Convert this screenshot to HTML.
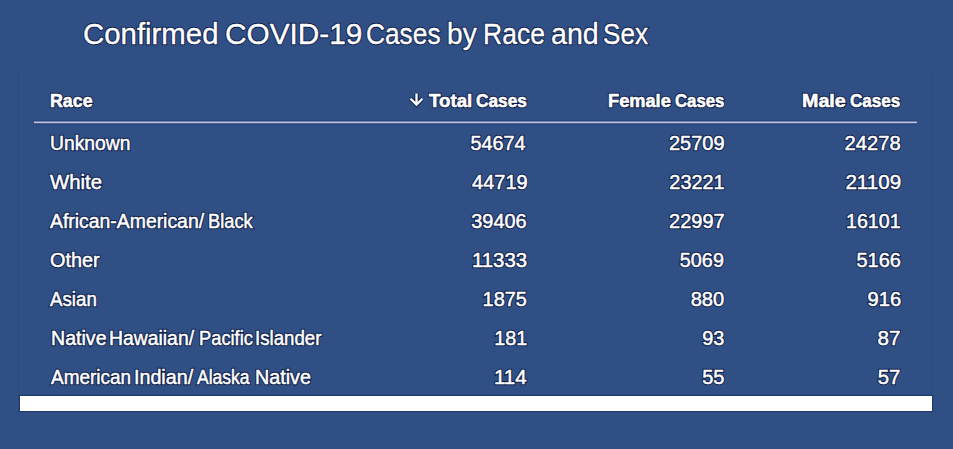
<!DOCTYPE html>
<html><head><meta charset="utf-8">
<style>
html,body{margin:0;padding:0;}
body{width:953px;height:449px;background:#2f4f85;position:relative;overflow:hidden;font-family:"Liberation Sans",sans-serif;color:#fff;}
.panel{position:absolute;left:18px;top:73px;width:912px;height:339px;border-left:1px solid #2b4a7e;border-right:1px solid #2b4a7e;}
.bar{position:absolute;left:20px;top:396px;width:912px;height:15px;background:#fff;box-shadow:0 0 0.8px 1px #1e3a6e;}
.t{position:absolute;line-height:1;white-space:nowrap;font-size:19.3px;-webkit-text-stroke:0.5px #fff;text-shadow:none;transform-origin:0 0;}
.n{transform-origin:100% 0;}
.hb{color:rgba(8,20,60,0.85);-webkit-text-stroke:2.4px rgba(8,20,60,0.85);}
.hb.h{-webkit-text-stroke:2.6px rgba(8,20,60,0.85);}
.hb.ti{-webkit-text-stroke:2.4px rgba(8,20,60,0.85);}
.ti{font-size:30.4px;-webkit-text-stroke:0.4px #fff;}
.h{font-weight:bold;font-size:19px;-webkit-text-stroke:0.6px #fff;}
svg{position:absolute;left:0;top:0;}
</style></head><body>
<div class="panel"></div>
<div class="t ti hb" style="left:83.21px;top:18.00px;transform:translateY(0px) scaleX(0.9664);">Confirmed</div>
<div id="title_0" class="t ti" style="left:83.21px;top:18.00px;transform:translateY(0px) scaleX(0.9664);">Confirmed</div>
<div class="t ti hb" style="left:224.71px;top:18.00px;transform:translateY(0px) scaleX(0.9800);">COVID-19</div>
<div id="title_1" class="t ti" style="left:224.71px;top:18.00px;transform:translateY(0px) scaleX(0.9800);">COVID-19</div>
<div class="t ti hb" style="left:366.22px;top:18.00px;transform:translateY(0px) scaleX(0.8653);">Cases</div>
<div id="title_2" class="t ti" style="left:366.22px;top:18.00px;transform:translateY(0px) scaleX(0.8653);">Cases</div>
<div class="t ti hb" style="left:447.37px;top:18.00px;transform:translateY(0px) scaleX(0.9246);">by</div>
<div id="title_3" class="t ti" style="left:447.37px;top:18.00px;transform:translateY(0px) scaleX(0.9246);">by</div>
<div class="t ti hb" style="left:483.44px;top:18.00px;transform:translateY(0px) scaleX(0.8723);">Race</div>
<div id="title_4" class="t ti" style="left:483.44px;top:18.00px;transform:translateY(0px) scaleX(0.8723);">Race</div>
<div class="t ti hb" style="left:550.72px;top:18.00px;transform:translateY(0px) scaleX(0.9415);">and</div>
<div id="title_5" class="t ti" style="left:550.72px;top:18.00px;transform:translateY(0px) scaleX(0.9415);">and</div>
<div class="t ti hb" style="left:602.59px;top:18.00px;transform:translateY(0px) scaleX(0.8580);">Sex</div>
<div id="title_6" class="t ti" style="left:602.59px;top:18.00px;transform:translateY(0px) scaleX(0.8580);">Sex</div>
<div class="t h hb" style="left:50.38px;top:91.00px;transform:translateY(-0.3px) scaleX(0.9372);">Race</div>
<div id="h0_0" class="t h" style="left:50.38px;top:91.00px;transform:translateY(-0.3px) scaleX(0.9372);">Race</div>
<div class="t h hb" style="left:428.67px;top:91.00px;transform:translateY(-0.3px) scaleX(0.9846);">Total</div>
<div id="h1_0" class="t h" style="left:428.67px;top:91.00px;transform:translateY(-0.3px) scaleX(0.9846);">Total</div>
<div class="t h hb" style="left:475.86px;top:91.00px;transform:translateY(-0.3px) scaleX(0.9100);">Cases</div>
<div id="h1_1" class="t h" style="left:475.86px;top:91.00px;transform:translateY(-0.3px) scaleX(0.9100);">Cases</div>
<div class="t h hb" style="left:607.98px;top:91.00px;transform:translateY(-0.3px) scaleX(0.9588);">Female</div>
<div id="h2_0" class="t h" style="left:607.98px;top:91.00px;transform:translateY(-0.3px) scaleX(0.9588);">Female</div>
<div class="t h hb" style="left:674.62px;top:91.00px;transform:translateY(-0.3px) scaleX(0.8825);">Cases</div>
<div id="h2_1" class="t h" style="left:674.62px;top:91.00px;transform:translateY(-0.3px) scaleX(0.8825);">Cases</div>
<div class="t h hb" style="left:802.47px;top:91.00px;transform:translateY(-0.3px) scaleX(1.0366);">Male</div>
<div id="h3_0" class="t h" style="left:802.47px;top:91.00px;transform:translateY(-0.3px) scaleX(1.0366);">Male</div>
<div class="t h hb" style="left:850.45px;top:91.00px;transform:translateY(-0.3px) scaleX(0.8989);">Cases</div>
<div id="h3_1" class="t h" style="left:850.45px;top:91.00px;transform:translateY(-0.3px) scaleX(0.8989);">Cases</div>
<div class="t hb" style="left:50.44px;top:134.00px;transform:translateY(0px) scaleX(1.0011);">Unknown</div>
<div id="r0c0_0" class="t" style="left:50.44px;top:134.00px;transform:translateY(0px) scaleX(1.0011);">Unknown</div>
<div class="t hb" style="left:50.11px;top:173.00px;transform:translateY(0px) scaleX(1.0550);">White</div>
<div id="r1c0_0" class="t" style="left:50.11px;top:173.00px;transform:translateY(0px) scaleX(1.0550);">White</div>
<div class="t hb" style="left:50.31px;top:212.00px;transform:translateY(0px) scaleX(1.0055);">African-American/</div>
<div id="r2c0_0" class="t" style="left:50.31px;top:212.00px;transform:translateY(0px) scaleX(1.0055);">African-American/</div>
<div class="t hb" style="left:208.03px;top:212.00px;transform:translateY(0px) scaleX(0.9479);">Black</div>
<div id="r2c0_1" class="t" style="left:208.03px;top:212.00px;transform:translateY(0px) scaleX(0.9479);">Black</div>
<div class="t hb" style="left:49.50px;top:251.00px;transform:translateY(0px) scaleX(1.0305);">Other</div>
<div id="r3c0_0" class="t" style="left:49.50px;top:251.00px;transform:translateY(0px) scaleX(1.0305);">Other</div>
<div class="t hb" style="left:50.21px;top:290.00px;transform:translateY(0px) scaleX(0.9710);">Asian</div>
<div id="r4c0_0" class="t" style="left:50.21px;top:290.00px;transform:translateY(0px) scaleX(0.9710);">Asian</div>
<div class="t hb" style="left:50.76px;top:329.00px;transform:translateY(0px) scaleX(1.0159);">Native</div>
<div id="r5c0_0" class="t" style="left:50.76px;top:329.00px;transform:translateY(0px) scaleX(1.0159);">Native</div>
<div class="t hb" style="left:108.88px;top:329.00px;transform:translateY(0px) scaleX(1.0045);">Hawaiian/</div>
<div id="r5c0_1" class="t" style="left:108.88px;top:329.00px;transform:translateY(0px) scaleX(1.0045);">Hawaiian/</div>
<div class="t hb" style="left:198.60px;top:329.00px;transform:translateY(0px) scaleX(0.9490);">Pacific</div>
<div id="r5c0_2" class="t" style="left:198.60px;top:329.00px;transform:translateY(0px) scaleX(0.9490);">Pacific</div>
<div class="t hb" style="left:255.41px;top:329.00px;transform:translateY(0px) scaleX(0.9681);">Islander</div>
<div id="r5c0_3" class="t" style="left:255.41px;top:329.00px;transform:translateY(0px) scaleX(0.9681);">Islander</div>
<div class="t hb" style="left:50.64px;top:368.00px;transform:translateY(0px) scaleX(0.9842);">American</div>
<div id="r6c0_0" class="t" style="left:50.64px;top:368.00px;transform:translateY(0px) scaleX(0.9842);">American</div>
<div class="t hb" style="left:134.17px;top:368.00px;transform:translateY(0px) scaleX(1.0209);">Indian/</div>
<div id="r6c0_1" class="t" style="left:134.17px;top:368.00px;transform:translateY(0px) scaleX(1.0209);">Indian/</div>
<div class="t hb" style="left:197.47px;top:368.00px;transform:translateY(0px) scaleX(0.9093);">Alaska</div>
<div id="r6c0_2" class="t" style="left:197.47px;top:368.00px;transform:translateY(0px) scaleX(0.9093);">Alaska</div>
<div class="t hb" style="left:254.76px;top:368.00px;transform:translateY(0px) scaleX(1.0223);">Native</div>
<div id="r6c0_3" class="t" style="left:254.76px;top:368.00px;transform:translateY(0px) scaleX(1.0223);">Native</div>
<svg width="953" height="449" viewBox="0 0 953 449"><path d="M416.5 93.6V104.6M410.6 98.7L416.5 104.6L422.4 98.7" fill="none" stroke="rgba(8,20,60,0.85)" stroke-width="4.1"/><path d="M416.5 93.6V104.6M410.6 98.7L416.5 104.6L422.4 98.7" fill="none" stroke="#fff" stroke-width="2.3"/></svg>
<svg width="953" height="449" viewBox="0 0 953 449"><path d="M34 122.4H917" stroke="rgba(30,50,105,0.55)" stroke-width="4"/><path d="M34 122.4H917" stroke="#bcc6e4" stroke-width="1.6"/></svg>
<div class="t n hb" style="right:427.12px;top:134.00px;transform:translateY(0px) scaleX(1.0259);">54674</div>
<div id="r0c1" class="t n" style="right:427.12px;top:134.00px;transform:translateY(0px) scaleX(1.0259);">54674</div>
<div class="t n hb" style="right:228.72px;top:134.00px;transform:translateY(0px) scaleX(1.0377);">25709</div>
<div id="r0c2" class="t n" style="right:228.72px;top:134.00px;transform:translateY(0px) scaleX(1.0377);">25709</div>
<div class="t n hb" style="right:52.28px;top:134.00px;transform:translateY(0px) scaleX(1.0446);">24278</div>
<div id="r0c3" class="t n" style="right:52.28px;top:134.00px;transform:translateY(0px) scaleX(1.0446);">24278</div>
<div class="t n hb" style="right:425.70px;top:173.00px;transform:translateY(0px) scaleX(1.0370);">44719</div>
<div id="r1c1" class="t n" style="right:425.70px;top:173.00px;transform:translateY(0px) scaleX(1.0370);">44719</div>
<div class="t n hb" style="right:228.72px;top:173.00px;transform:translateY(0px) scaleX(1.0304);">23221</div>
<div id="r1c2" class="t n" style="right:228.72px;top:173.00px;transform:translateY(0px) scaleX(1.0304);">23221</div>
<div class="t n hb" style="right:52.08px;top:173.00px;transform:translateY(0px) scaleX(1.0690);">21109</div>
<div id="r1c3" class="t n" style="right:52.08px;top:173.00px;transform:translateY(0px) scaleX(1.0690);">21109</div>
<div class="t n hb" style="right:426.42px;top:212.00px;transform:translateY(0px) scaleX(1.0329);">39406</div>
<div id="r2c1" class="t n" style="right:426.42px;top:212.00px;transform:translateY(0px) scaleX(1.0329);">39406</div>
<div class="t n hb" style="right:228.35px;top:212.00px;transform:translateY(0px) scaleX(1.0355);">22997</div>
<div id="r2c2" class="t n" style="right:228.35px;top:212.00px;transform:translateY(0px) scaleX(1.0355);">22997</div>
<div class="t n hb" style="right:52.04px;top:212.00px;transform:translateY(0px) scaleX(1.0187);">16101</div>
<div id="r2c3" class="t n" style="right:52.04px;top:212.00px;transform:translateY(0px) scaleX(1.0187);">16101</div>
<div class="t n hb" style="right:426.23px;top:251.00px;transform:translateY(0px) scaleX(1.0598);">11333</div>
<div id="r3c1" class="t n" style="right:426.23px;top:251.00px;transform:translateY(0px) scaleX(1.0598);">11333</div>
<div class="t n hb" style="right:228.84px;top:251.00px;transform:translateY(0px) scaleX(1.0268);">5069</div>
<div id="r3c2" class="t n" style="right:228.84px;top:251.00px;transform:translateY(0px) scaleX(1.0268);">5069</div>
<div class="t n hb" style="right:52.29px;top:251.00px;transform:translateY(0px) scaleX(1.0367);">5166</div>
<div id="r3c3" class="t n" style="right:52.29px;top:251.00px;transform:translateY(0px) scaleX(1.0367);">5166</div>
<div class="t n hb" style="right:426.06px;top:290.00px;transform:translateY(0px) scaleX(1.0332);">1875</div>
<div id="r4c1" class="t n" style="right:426.06px;top:290.00px;transform:translateY(0px) scaleX(1.0332);">1875</div>
<div class="t n hb" style="right:228.86px;top:290.00px;transform:translateY(0px) scaleX(1.0427);">880</div>
<div id="r4c2" class="t n" style="right:228.86px;top:290.00px;transform:translateY(0px) scaleX(1.0427);">880</div>
<div class="t n hb" style="right:52.07px;top:290.00px;transform:translateY(0px) scaleX(1.0453);">916</div>
<div id="r4c3" class="t n" style="right:52.07px;top:290.00px;transform:translateY(0px) scaleX(1.0453);">916</div>
<div class="t n hb" style="right:426.21px;top:329.00px;transform:translateY(0px) scaleX(1.0243);">181</div>
<div id="r5c1" class="t n" style="right:426.21px;top:329.00px;transform:translateY(0px) scaleX(1.0243);">181</div>
<div class="t n hb" style="right:229.06px;top:329.00px;transform:translateY(0px) scaleX(1.0334);">93</div>
<div id="r5c2" class="t n" style="right:229.06px;top:329.00px;transform:translateY(0px) scaleX(1.0334);">93</div>
<div class="t n hb" style="right:52.17px;top:329.00px;transform:translateY(0px) scaleX(1.0686);">87</div>
<div id="r5c3" class="t n" style="right:52.17px;top:329.00px;transform:translateY(0px) scaleX(1.0686);">87</div>
<div class="t n hb" style="right:426.28px;top:368.00px;transform:translateY(0px) scaleX(1.0674);">114</div>
<div id="r6c1" class="t n" style="right:426.28px;top:368.00px;transform:translateY(0px) scaleX(1.0674);">114</div>
<div class="t n hb" style="right:228.67px;top:368.00px;transform:translateY(0px) scaleX(1.0398);">55</div>
<div id="r6c2" class="t n" style="right:228.67px;top:368.00px;transform:translateY(0px) scaleX(1.0398);">55</div>
<div class="t n hb" style="right:52.23px;top:368.00px;transform:translateY(0px) scaleX(1.0562);">57</div>
<div id="r6c3" class="t n" style="right:52.23px;top:368.00px;transform:translateY(0px) scaleX(1.0562);">57</div>
<div class="bar"></div>
</body></html>
